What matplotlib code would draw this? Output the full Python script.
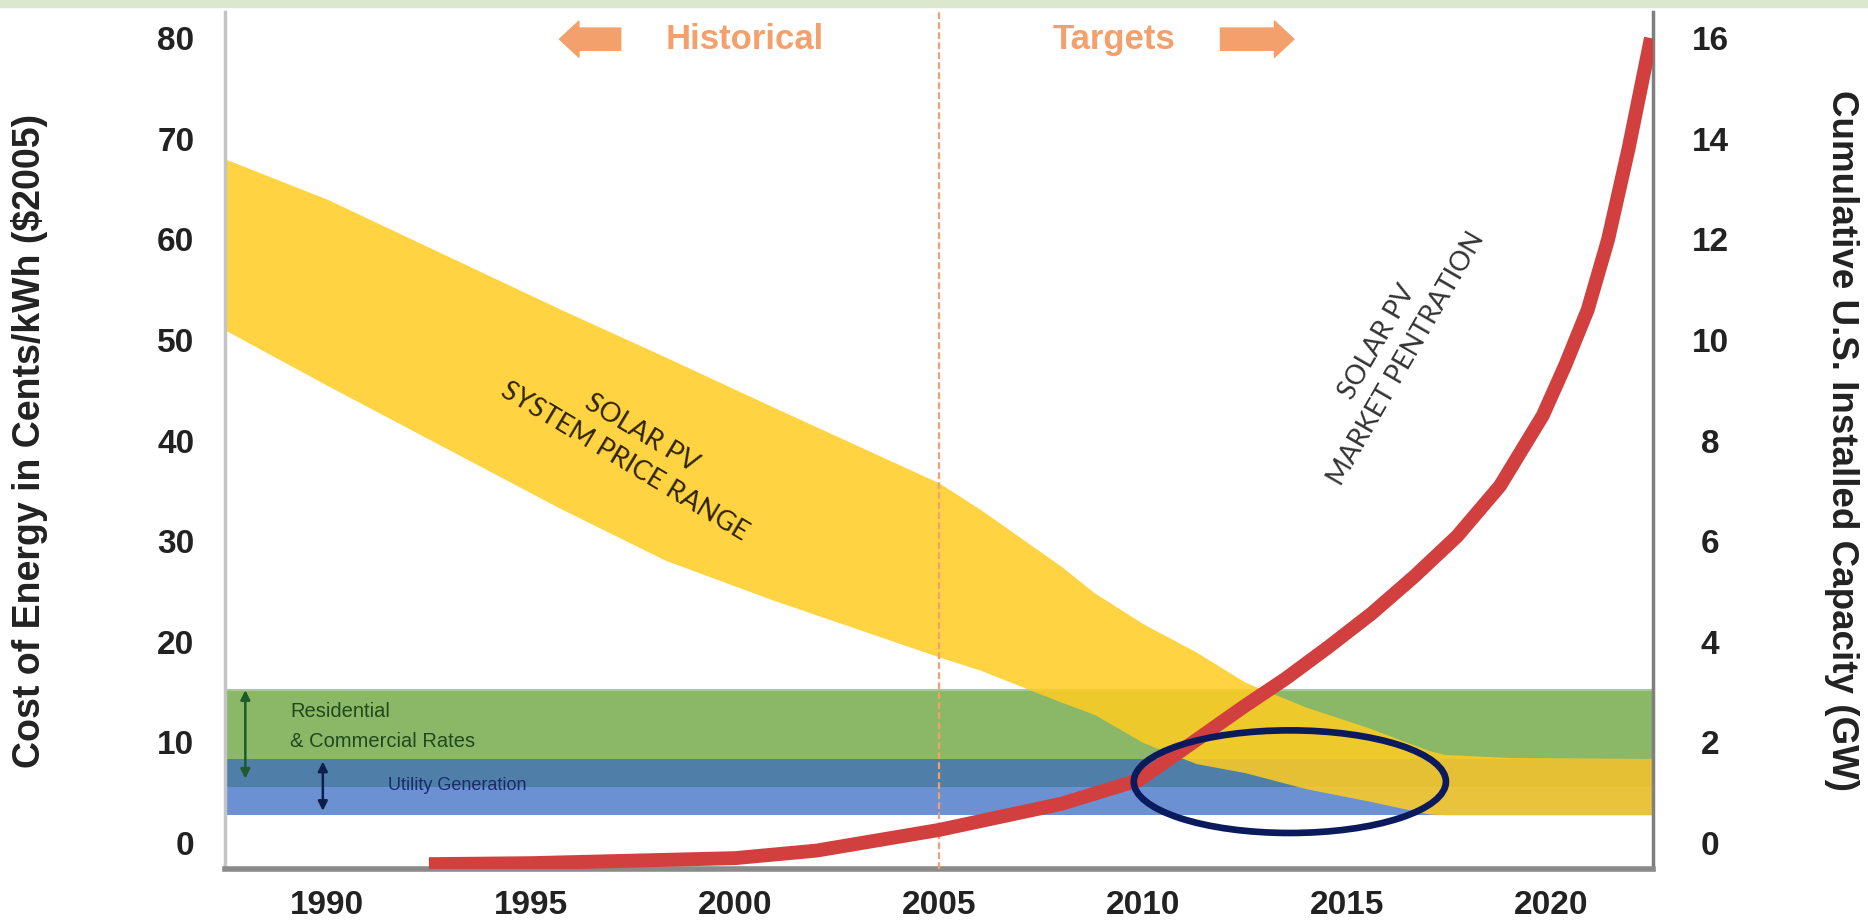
import matplotlib
matplotlib.use("Agg")
import matplotlib.pyplot as plt
from matplotlib.patches import Ellipse, Rectangle

# --- data ---
years = [1990, 1995, 2000, 2005, 2010, 2015, 2020]
cost_ticks = [0, 10, 20, 30, 40, 50, 60, 70, 80]
gw_ticks = [0, 2, 4, 6, 8, 10, 12, 14, 16]

# solar PV system price range (cents/kWh)
band_years = [1987.5, 1990, 1995.7, 1998.3, 2000.9, 2005, 2006, 2008, 2008.8,
              2010, 2011.3, 2012.5, 2014, 2015.5, 2017, 2017.4, 2019, 2022.5]
band_upper = [68, 64, 53.1, 48.3, 43.4, 35.8, 33.2, 27.5, 24.9,
              21.8, 19.0, 16.0, 13.5, 11.5, 9.2, 8.8, 8.5, 8.4]
band_lower = [51, 45.5, 33.3, 28.1, 24.2, 18.5, 17.2, 14.0, 12.8,
              10.0, 7.9, 7.0, 5.4, 4.2, 2.9, 2.8, 2.8, 2.8]

# rate ranges (cents/kWh)
residential = (5.6, 15.2)
utility = (2.8, 8.4)

# cumulative installed capacity (GW)
pv_years = [1992.5, 1995, 2000, 2002, 2005, 2008, 2009.9, 2011.4, 2012.45,
            2013.5, 2014.55, 2015.6, 2016.65, 2017.7, 2018.75, 2019.8,
            2020.35, 2020.9, 2021.15, 2021.4, 2021.65, 2021.9, 2022.15, 2022.45]
pv_gw = [-0.42, -0.4, -0.3, -0.15, 0.26, 0.78, 1.25, 2.1, 2.7,
         3.27, 3.9, 4.56, 5.3, 6.1, 7.1, 8.5,
         9.5, 10.6, 11.3, 12.0, 12.9, 13.8, 14.8, 16.0]

tickfont = ["Liberation Sans Narrow", "Liberation Sans", "DejaVu Sans"]
labfont = ["Liberation Sans", "DejaVu Sans"]

fig = plt.figure(figsize=(18.68, 9.23), dpi=100)
fig.patches.append(Rectangle((0, 0.992), 1, 0.008, transform=fig.transFigure,
                             color="#dce8cd", zorder=0))
ax = fig.add_axes([0.1204, 0.0585, 0.7645, 0.9285])
ax.set_xlim(1987.5, 2022.5)
ax.set_ylim(-2.58, 82.6)

# rate bands
ax.axhspan(utility[1], residential[1], color="#8bb866", lw=0, zorder=1)
ax.axhspan(residential[0], utility[1], color="#4f7fa8", lw=0, zorder=1)
ax.axhspan(utility[0], residential[0], color="#6c91d3", lw=0, zorder=1)
ax.axhline(residential[1], color="#a9c79a", lw=1.5, zorder=1)

# price range
ax.fill_between(band_years, band_lower, band_upper, color="#ffcc22",
                alpha=0.86, lw=0, zorder=2)

ax.axvline(2005, color="#f2a06e", lw=1.6, ls=(0, (3, 1.5)), zorder=3)

# band annotations
ax.annotate("", xy=(1988.0, 15.2), xytext=(1988.0, 6.4),
            arrowprops=dict(arrowstyle="<|-|>", color="#1f5a2a", lw=1.8,
                            mutation_scale=14, shrinkA=0, shrinkB=0), zorder=4)
ax.annotate("", xy=(1989.9, 8.1), xytext=(1989.9, 3.2),
            arrowprops=dict(arrowstyle="<|-|>", color="#0b1f4a", lw=1.8,
                            mutation_scale=14, shrinkA=0, shrinkB=0), zorder=4)
ax.text(1989.1, 13.1, "Residential", fontsize=14.5, color="#1e4a1e",
        family=labfont, va="center", zorder=4)
ax.text(1989.1, 10.1, "& Commercial Rates", fontsize=14.5, color="#1e4a1e",
        family=labfont, va="center", zorder=4)
ax.text(1991.5, 5.7, "Utility Generation", fontsize=13, color="#1a2a6c",
        family=labfont, va="center", zorder=4)

ax.text(1997.5, 39.3, "SOLAR PV\nSYSTEM PRICE RANGE", rotation=-31,
        rotation_mode="anchor", ha="center", va="center", multialignment="center",
        fontsize=19.5, color="#2e2404", family=["Lato", "DejaVu Sans"],
        linespacing=1.4, zorder=4)
ax.text(2016.1, 49.0, "SOLAR PV\nMARKET PENTRATION", rotation=60,
        rotation_mode="anchor", ha="center", va="center", multialignment="center",
        fontsize=19.5, color="#333333", family=["Lato", "DejaVu Sans"],
        linespacing=1.4, zorder=4)

# Historical / Targets header
orange = "#f4a06c"
arrow = dict(arrowstyle="simple,head_width=1.3,head_length=0.7,tail_width=0.8",
             color=orange, mutation_scale=20, shrinkA=0, shrinkB=0)
ax.annotate("", xy=(1995.7, 79.9), xytext=(1997.2, 79.9), arrowprops=arrow)
ax.annotate("", xy=(2013.7, 79.9), xytext=(2011.9, 79.9), arrowprops=arrow)
ax.text(2000.25, 79.9, "Historical", fontsize=25, fontweight="bold", color=orange,
        family=tickfont, ha="center", va="center")
ax.text(2009.3, 79.9, "Targets", fontsize=25, fontweight="bold", color=orange,
        family=tickfont, ha="center", va="center")

# spines and ticks
ax.spines["top"].set_visible(False)
ax.spines["left"].set_color("#c4c4c4")
ax.spines["left"].set_linewidth(2.5)
ax.spines["bottom"].set_color("#8a8a8a")
ax.spines["bottom"].set_linewidth(4)
ax.spines["right"].set_color("#7f7f7f")
ax.spines["right"].set_linewidth(2.5)

ax.set_xticks(years)
ax.set_yticks(cost_ticks)
ax.tick_params(axis="x", length=0, pad=15)
ax.tick_params(axis="y", length=0, pad=22)
for lab in ax.get_xticklabels() + ax.get_yticklabels():
    lab.set_fontfamily(tickfont)
    lab.set_fontweight("bold")
    lab.set_fontsize(24)
    lab.set_color("#222222")

ax.text(-0.1366, 0.5, "Cost of Energy in Cents/kWh ($2005)", rotation=90,
        transform=ax.transAxes, ha="center", va="center", fontsize=27,
        fontweight="bold", family=labfont, color="#222222")

ax2 = ax.twinx()
ax2.set_ylim(-2.58 / 5, 82.6 / 5)
ax2.set_yticks(gw_ticks)
ax2.tick_params(axis="y", length=0, pad=41)
for lab in ax2.get_yticklabels():
    lab.set_fontfamily(tickfont)
    lab.set_fontweight("bold")
    lab.set_fontsize(24)
    lab.set_color("#222222")
    lab.set_horizontalalignment("center")
for s in ["top", "left", "bottom", "right"]:
    ax2.spines[s].set_visible(False)
ax2.text(1.1317, 0.5, "Cumulative U.S. Installed Capacity (GW)", rotation=270,
         transform=ax2.transAxes, ha="center", va="center", fontsize=26.5,
         fontweight="bold", family=labfont, color="#222222")

ax2.plot(pv_years, pv_gw, color="#d23f3f", lw=10, solid_capstyle="butt",
         solid_joinstyle="round", zorder=5)

ax2.add_patch(Ellipse((2013.6, 6.1 / 5), 7.65, 10.2 / 5, fill=False,
                      edgecolor="#0a1a5c", lw=4.8, zorder=6))

fig.savefig("out.png", dpi=100)
